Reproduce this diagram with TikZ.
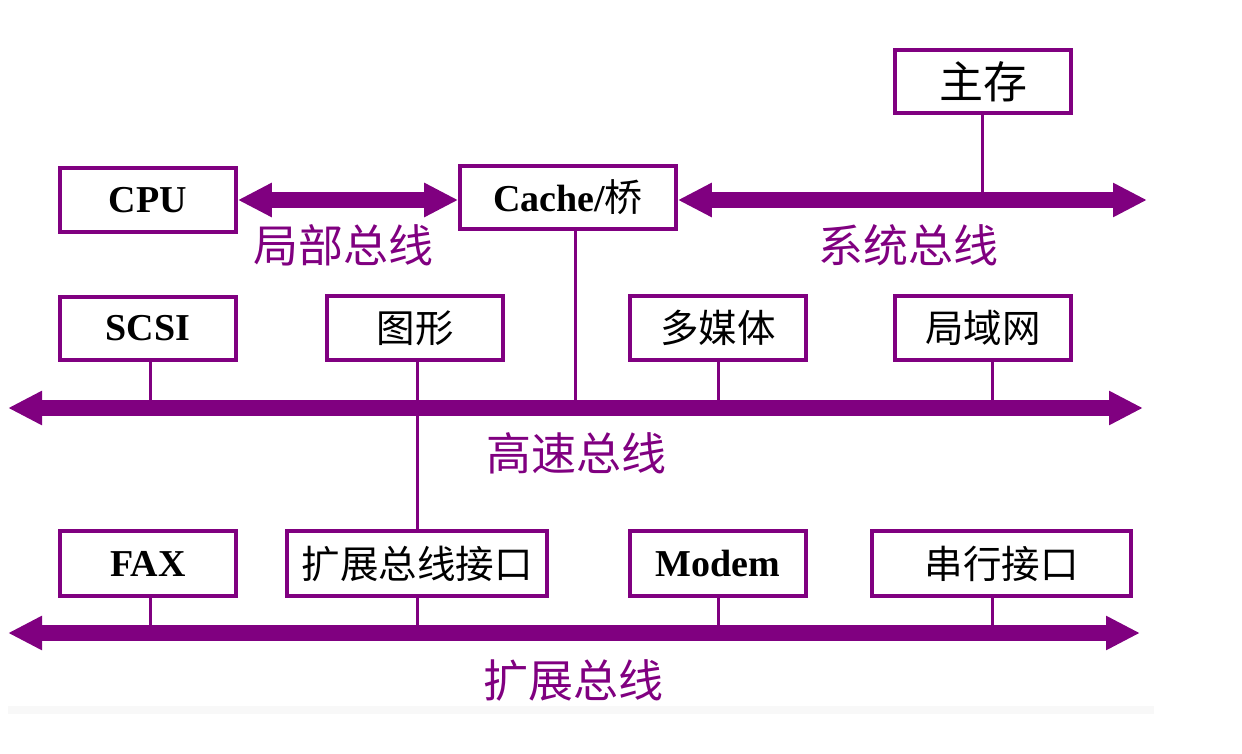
\documentclass[tikz,border=0pt]{standalone}
\usepackage{fontspec}
\setmainfont{Liberation Serif}
\newfontfamily\cjk{Noto Sans CJK SC}
\usetikzlibrary{arrows.meta}
\definecolor{bpurple}{HTML}{800080}
\definecolor{stripgray}{HTML}{F8F8F8}
\tikzset{
  box/.style={draw=bpurple, line width=3.6pt, fill=white, minimum height=64pt, minimum width=176pt, inner sep=0pt, text=black},
  latin/.style={font=\fontsize{38}{40}\selectfont\bfseries},
  han/.style={font=\fontsize{38.5}{40}\selectfont\cjk},
  buslabel/.style={font=\fontsize{45}{48}\selectfont\cjk, text=bpurple, inner sep=0pt},
  bus/.style={draw=bpurple, line width=16pt, {Triangle[length=34pt,width=32pt]}-{Triangle[length=34pt,width=32pt]}},
  tap/.style={draw=bpurple, line width=3pt}
}
\begin{document}
\begin{tikzpicture}[x=1pt,y=-1pt]
\useasboundingbox (0,0) rectangle (1242,754);
\fill[stripgray] (8,706) rectangle (1154,714);

% boxes
\node[box, font=\fontsize{44}{46}\selectfont\cjk, minimum height=63pt] (mem) at (983,81.5) {主存};
\node[box, latin] (cpu) at (148,200) {CPU};
\node[box, minimum width=216pt, minimum height=63pt] (cache) at (568,197.5) {\fontsize{38}{40}\selectfont\bfseries Cache/{\mdseries\cjk 桥}};
\node[box, latin, minimum height=63pt] (scsi) at (148,328.5) {SCSI};
\node[box, han] (gfx) at (415,328) {图形};
\node[box, han] (mm) at (718,328) {多媒体};
\node[box, han] (lan) at (983,328) {局域网};
\node[box, latin, minimum height=65pt] (fax) at (148,563.5) {FAX};
\node[box, han, minimum width=260pt, minimum height=65pt] (ebi) at (417,563.5) {扩展总线接口};
\node[box, latin, minimum height=65pt] (modem) at (718,563.5) {Modem};
\node[box, han, minimum width=259pt, minimum height=65pt] (serial) at (1001.5,563.5) {串行接口};

% bus end coordinates
\coordinate (sysR) at (1147,200);
\coordinate (hsL) at (8,408);
\coordinate (hsR) at (1143,408);
\coordinate (exL) at (8,633);
\coordinate (exR) at (1140,633);

% taps
\draw[tap] (mem.south -| 982,0) -- (982,200);
\draw[tap] (cache.south -| 575,0) -- (575,408);
\draw[tap] (scsi.south -| 150,0) -- (150,408);
\draw[tap] (gfx.south -| 417,0) -- (ebi.north);
\draw[tap] (mm.south -| 718,0) -- (718,408);
\draw[tap] (lan.south -| 992,0) -- (992,408);
\draw[tap] (fax.south -| 150,0) -- (150,633);
\draw[tap] (ebi.south) -- (417,633);
\draw[tap] (modem.south -| 718,0) -- (718,633);
\draw[tap] (serial.south -| 992,0) -- (992,633);

% buses
\draw[bus] (cpu.east |- 0,200) -- (cache.west |- 0,200);
\draw[bus] (cache.east |- 0,200) -- (sysR);
\draw[bus] (hsL) -- (hsR);
\draw[bus] (exL) -- (exR);

% labels
\node[buslabel] (lbl1) at (343,245) {局部总线};
\node[buslabel] (lbl2) at (908,245) {系统总线};
\node[buslabel] (lbl3) at (576,453) {高速总线};
\node[buslabel] (lbl4) at (573,680) {扩展总线};
\end{tikzpicture}
\end{document}
